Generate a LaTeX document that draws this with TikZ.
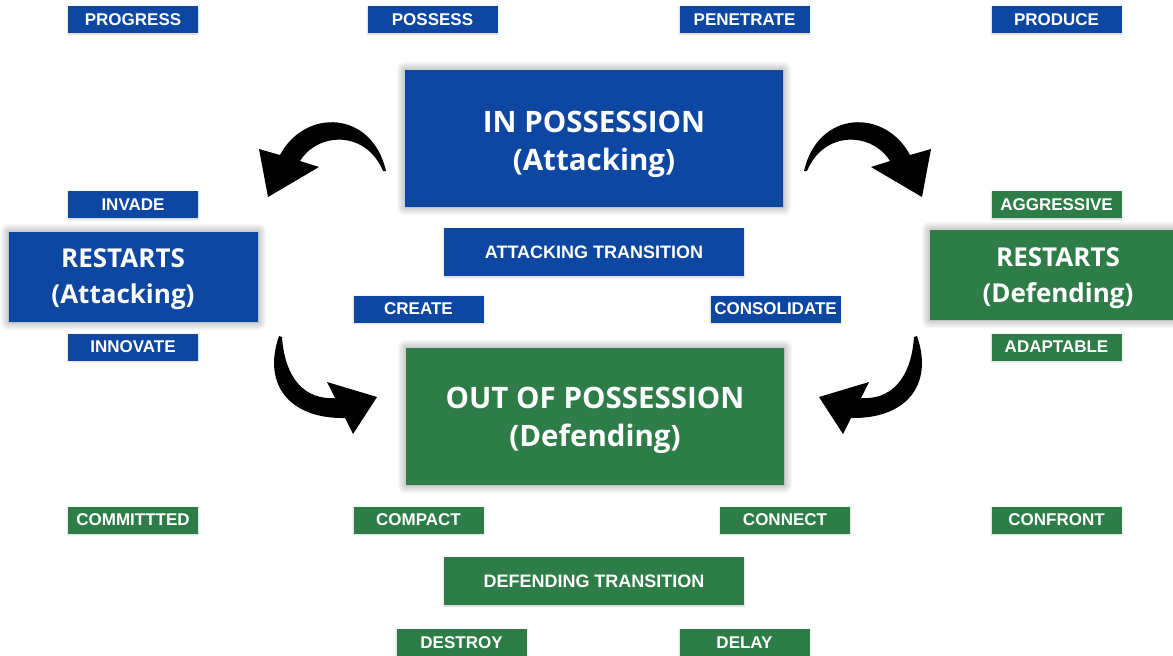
\documentclass[tikz,border=0pt]{standalone}
\usepackage{fontspec}
\usetikzlibrary{shadows.blur}

\newfontfamily\wordfamily{Liberation Sans}
\newfontfamily\phasefamily{Open Sans}

\definecolor{atkblue}{RGB}{13,71,161}
\definecolor{defgreen}{RGB}{46,125,72}

\tikzset{
  word/.style={minimum width=130pt, minimum height=27pt, inner sep=0pt, text=white,
    font=\wordfamily\bfseries\fontsize{17}{18}\selectfont,
    blur shadow={shadow xshift=0pt, shadow yshift=-1pt, shadow blur radius=2pt, shadow opacity=20}},
  wordA/.style={word, fill=atkblue},
  wordD/.style={word, fill=defgreen},
  trans/.style={minimum width=300pt, minimum height=48pt,
    font=\wordfamily\bfseries\fontsize{18}{20}\selectfont},
  phasebox/.style={inner sep=0pt, blur shadow={shadow xshift=0pt, shadow yshift=0pt,
    shadow blur radius=9pt, shadow blur steps=12, shadow opacity=45}},
  phasetext/.style={text=white, align=center, inner sep=0pt,
    font=\phasefamily\bfseries\fontsize{29.5}{38.5}\selectfont},
  restarttext/.style={phasetext, font=\phasefamily\bfseries\fontsize{26}{36}\selectfont},
}

\begin{document}
\begin{tikzpicture}[x=1pt,y=-1pt]

\useasboundingbox (0,0) rectangle (1173,656);

%%% top row
\node[wordA] (progress) at (133,19.5) {PROGRESS};
\node[wordA] (possess) at (432.5,19.5) {POSSESS};
\node[wordA] (penetrate) at (744.5,19.5) {PENETRATE};
\node[wordA] (produce) at (1056.5,19.5) {PRODUCE};

%%% phases
\node[phasebox, fill=atkblue, minimum width=378pt, minimum height=137pt] (inposs) at (594,138.5) {};
\node[phasetext] (inposstxt) at (594,144.5) {IN POSSESSION\\(Attacking)};
\node[phasebox, fill=defgreen, minimum width=378pt, minimum height=137pt] (outposs) at (595,416.5) {};
\node[phasetext] (outposstxt) at (595,420.5) {OUT OF POSSESSION\\(Defending)};

\node[phasebox, fill=atkblue, minimum width=249pt, minimum height=90pt] (restartA) at (133.5,277) {};
\node[restarttext] (restartAtxt) at (123,279) {RESTARTS\\(Attacking)};
\node[phasebox, fill=defgreen, minimum width=252pt, minimum height=90pt] (restartD) at (1056,275) {};
\node[restarttext] (restartDtxt) at (1058,278.5) {RESTARTS\\(Defending)};

%%% transitions
\node[wordA, trans] (atktrans) at (594,252) {ATTACKING TRANSITION};
\node[wordD, trans] (deftrans) at (594,581) {DEFENDING TRANSITION};

%%% middle words
\node[wordA] (invade) at (133,204.5) {INVADE};
\node[wordA] (innovate) at (133,347) {INNOVATE};
\node[wordA] (create) at (418.5,309) {CREATE};
\node[wordA] (consolidate) at (775.5,309) {CONSOLIDATE};
\node[wordD] (aggressive) at (1056.5,204.5) {AGGRESSIVE};
\node[wordD] (adaptable) at (1056.5,347) {ADAPTABLE};

%%% bottom words
\node[wordD] (committed) at (133,520) {COMMITTTED};
\node[wordD] (compact) at (418.5,520) {COMPACT};
\node[wordD] (connect) at (785,520) {CONNECT};
\node[wordD] (confront) at (1056.5,520) {CONFRONT};
\node[wordD] (destroy) at (461.5,642.5) {DESTROY};
\node[wordD] (delay) at (744.5,642.5) {DELAY};

%%% brush arrows
\fill (386,171) .. controls (372,110) and (305,108) .. (280,155)
  -- (259,149) -- (268,197) -- (319,167) -- (300,161)
  .. controls (318,132) and (366,130) .. (383,171) -- cycle;
\begin{scope}[xshift=1190pt, xscale=-1]
\fill (386,171) .. controls (372,110) and (305,108) .. (280,155)
  -- (259,149) -- (268,197) -- (319,167) -- (300,161)
  .. controls (318,132) and (366,130) .. (383,171) -- cycle;
\end{scope}

\fill (279,336) .. controls (262,385) and (290,419) .. (345,418)
  -- (353,434) -- (377,397) -- (327,382) -- (335,398)
  .. controls (306,400) and (285,380) .. (282,337) -- cycle;
\begin{scope}[xshift=1196pt, xscale=-1]
\fill (279,336) .. controls (262,385) and (290,419) .. (345,418)
  -- (353,434) -- (377,397) -- (327,382) -- (335,398)
  .. controls (306,400) and (285,380) .. (282,337) -- cycle;
\end{scope}

\end{tikzpicture}
\end{document}
